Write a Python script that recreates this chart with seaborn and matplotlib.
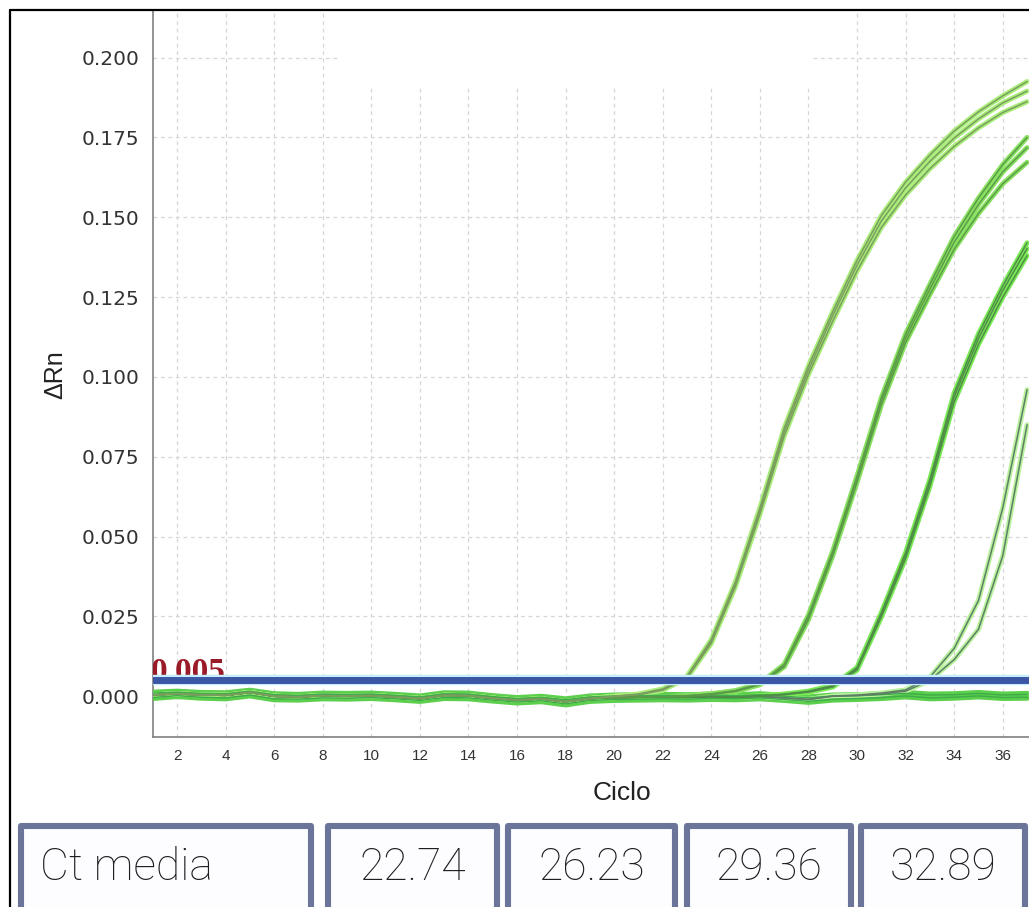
import matplotlib
matplotlib.use("Agg")
import matplotlib.pyplot as plt
from matplotlib.patches import Rectangle
from matplotlib.lines import Line2D
import pandas as pd
import seaborn as sns

# ---------------- data ----------------
cycles = list(range(1, 38))

# common baseline drift of the wells before amplification (ΔRn)
baseline = [0.0004, 0.0008, 0.0004, 0.0003, 0.0012, 0.0000, -0.0002, 0.0002, 0.0001, 0.0002,
            -0.0002, -0.0007, 0.0003, 0.0002, -0.0006, -0.0012, -0.0008, -0.0017, -0.0007, -0.0004,
            -0.0003, -0.0002, -0.0003, -0.0001, -0.0003, 0.0000, -0.0005, -0.0010, -0.0004, -0.0003,
            0.0000, 0.0004, -0.0001, 0.0000, 0.0004, -0.0001, 0.0001]

# non-amplifying wells (full run)
ntc_1 = [-0.0004, 0.0002, -0.0003, -0.0005, 0.0004, -0.0008, -0.0009, -0.0005, -0.0006, -0.0004,
         -0.0008, -0.0013, -0.0004, -0.0005, -0.0012, -0.0018, -0.0014, -0.0024, -0.0013, -0.0010,
         -0.0009, -0.0008, -0.0009, -0.0007, -0.0008, -0.0005, -0.0010, -0.0016, -0.0009, -0.0007,
         -0.0004, 0.0001, -0.0005, -0.0003, 0.0001, -0.0004, -0.0003]
ntc_2 = [0.0010, 0.0013, 0.0009, 0.0008, 0.0016, 0.0005, 0.0003, 0.0007, 0.0006, 0.0007,
         0.0003, -0.0002, 0.0008, 0.0007, -0.0001, -0.0007, -0.0003, -0.0011, -0.0002, 0.0001,
         0.0002, 0.0003, 0.0002, 0.0004, 0.0002, 0.0005, 0.0000, -0.0005, 0.0001, 0.0002,
         0.0005, 0.0009, 0.0004, 0.0005, 0.0009, 0.0004, 0.0006]

# dilution 1 (from cycle 20)
dil1_start = 20
dil1_a = [0.0000, 0.0007, 0.0023, 0.0063, 0.0178, 0.0360, 0.0590, 0.0840, 0.1035, 0.1205,
          0.1365, 0.1505, 0.1610, 0.1695, 0.1770, 0.1830, 0.1880, 0.1925]
dil1_b = [0.0000, 0.0006, 0.0021, 0.0060, 0.0172, 0.0352, 0.0580, 0.0828, 0.1022, 0.1192,
          0.1350, 0.1488, 0.1592, 0.1675, 0.1748, 0.1808, 0.1858, 0.1895]
dil1_c = [-0.0001, 0.0005, 0.0019, 0.0057, 0.0166, 0.0345, 0.0570, 0.0815, 0.1008, 0.1175,
          0.1332, 0.1468, 0.1570, 0.1652, 0.1722, 0.1780, 0.1828, 0.1862]

# dilution 2 (from cycle 23)
dil2_start = 23
dil2_a = [0.0002, 0.0008, 0.0018, 0.0040, 0.0100, 0.0255, 0.0455, 0.0690, 0.0935, 0.1135,
          0.1290, 0.1440, 0.1560, 0.1665, 0.1750]
dil2_b = [0.0001, 0.0007, 0.0016, 0.0038, 0.0095, 0.0248, 0.0448, 0.0680, 0.0925, 0.1122,
          0.1275, 0.1422, 0.1540, 0.1642, 0.1718]
dil2_c = [0.0000, 0.0006, 0.0015, 0.0036, 0.0092, 0.0240, 0.0440, 0.0670, 0.0912, 0.1108,
          0.1258, 0.1400, 0.1512, 0.1605, 0.1672]

# dilution 3 (from cycle 26)
dil3_start = 26
dil3_a = [0.0002, 0.0007, 0.0016, 0.0034, 0.0090, 0.0262, 0.0450, 0.0680, 0.0950, 0.1135,
          0.1285, 0.1420]
dil3_b = [0.0001, 0.0006, 0.0014, 0.0031, 0.0086, 0.0255, 0.0442, 0.0670, 0.0938, 0.1120,
          0.1270, 0.1402]
dil3_c = [0.0000, 0.0005, 0.0013, 0.0029, 0.0082, 0.0248, 0.0432, 0.0658, 0.0922, 0.1102,
          0.1250, 0.1380]

# dilution 4 (from cycle 29)
dil4_start = 29
dil4_a = [0.0001, 0.0004, 0.0010, 0.0020, 0.0060, 0.0150, 0.0300, 0.0590, 0.0960]
dil4_b = [0.0000, 0.0002, 0.0007, 0.0016, 0.0050, 0.0115, 0.0210, 0.0440, 0.0850]

threshold = 0.005
ct_label = "Ct media"
ct_values = ["22.74", "26.23", "29.36", "32.89"]
x_ticks = list(range(2, 37, 2))
y_ticks = [0.000, 0.025, 0.050, 0.075, 0.100, 0.125, 0.150, 0.175, 0.200]

# ---------------- tidy table ----------------
groups = [
    ("dil1", dil1_start, {"A1": dil1_a, "A2": dil1_b, "A3": dil1_c}),
    ("dil2", dil2_start, {"B1": dil2_a, "B2": dil2_b, "B3": dil2_c}),
    ("dil3", dil3_start, {"C1": dil3_a, "C2": dil3_b, "C3": dil3_c}),
    ("dil4", dil4_start, {"D1": dil4_a, "D2": dil4_b}),
]
rows = []
for name, start, wells in groups:
    for well, rise in wells.items():
        values = baseline[:start - 1] + rise
        for c, v in zip(cycles, values):
            rows.append({"Ciclo": c, "dRn": v, "pocillo": well, "grupo": name})
for well, values in (("N1", ntc_1), ("N2", ntc_2)):
    for c, v in zip(cycles, values):
        rows.append({"Ciclo": c, "dRn": v, "pocillo": well, "grupo": "ntc"})
df = pd.DataFrame(rows)

# (glow colour, core colour, glow width)
palette = {
    "ntc":  ("#5ccf4c", "#3fae4a", 5.0),
    "dil1": ("#aaee7a", "#7a9e5e", 3.6),
    "dil2": ("#88e260", "#5c9c48", 3.6),
    "dil3": ("#7aea56", "#4f8e46", 3.6),
    "dil4": ("#b8f29c", "#5e7e66", 3.6),
}

# ---------------- figure ----------------
sns.set_style("white")
plt.rcParams["font.family"] = ["Liberation Sans", "DejaVu Sans"]

W, H = 1029, 907
fig = plt.figure(figsize=(W / 100, H / 100), dpi=100)
fig.patch.set_facecolor("white")

def fx(px):
    return px / W

def fy(py):
    return 1 - py / H

ax_left, ax_right, ax_top, ax_bottom = 153, 1029, 10, 737
ax = fig.add_axes([fx(ax_left), fy(ax_bottom), fx(ax_right - ax_left), (ax_bottom - ax_top) / H])
ax.set_facecolor("white")

order = ["ntc", "dil4", "dil3", "dil2", "dil1"]
for g in order:
    glow, core, gw = palette[g]
    sub = df[df["grupo"] == g]
    sns.lineplot(data=sub, x="Ciclo", y="dRn", units="pocillo", estimator=None,
                 color=glow, lw=gw, ax=ax, legend=False, zorder=3,
                 solid_capstyle="round", solid_joinstyle="round")
for g in order:
    glow, core, gw = palette[g]
    sub = df[df["grupo"] == g]
    sns.lineplot(data=sub, x="Ciclo", y="dRn", units="pocillo", estimator=None,
                 color=core, lw=1.1, ax=ax, legend=False, zorder=4)

# threshold line and its value
ax.text(0.92, 0.0049, f"{threshold:.3f}", family=["Liberation Serif", "DejaVu Serif"],
        weight="bold", fontsize=24, color="#9a1a28", ha="left", va="baseline",
        zorder=4.5, clip_on=True)
ax.axhline(threshold, color="#c6eeff", lw=7.5, zorder=5)
ax.axhline(threshold, color="#3c56a6", lw=5, zorder=6)

ax.set_xlim(1.01, 37.08)
ax.set_ylim(-0.01275, 0.2149)
ax.set_xticks(x_ticks)
ax.set_yticks(y_ticks)
ax.set_yticklabels([f"{v:.3f}" for v in y_ticks])

ax.grid(True, color="#d6d6d6", ls=(0, (3, 3)), lw=0.9)
ax.set_axisbelow(True)
# blank strip at the top of the plotting area
ax.add_patch(Rectangle((8.72, 0.1905), 28.14 - 8.72, 0.03, facecolor="white",
                       edgecolor="none", zorder=1))

for side in ("top", "right"):
    ax.spines[side].set_visible(False)
for side in ("left", "bottom"):
    ax.spines[side].set_color("#808080")
    ax.spines[side].set_linewidth(1.2)

ax.tick_params(axis="both", direction="out", length=3, width=1, color="#808080",
               labelcolor="#333333")
ax.tick_params(axis="x", labelsize=11, pad=6)
ax.tick_params(axis="y", labelsize=14.5, pad=7)
for lab in ax.get_xticklabels():
    lab.set_family(["Liberation Sans Narrow", "Liberation Sans"])
for lab in ax.get_yticklabels():
    lab.set_family("DejaVu Sans")

ax.set_xlabel("Ciclo", fontsize=19, color="#222222")
ax.set_ylabel("ΔRn", fontsize=18, color="#222222")
ax.xaxis.set_label_coords(0.535, -0.06)
ax.yaxis.set_label_coords(-0.098, 0.498)

# outer frame (left and top edges)
fig.add_artist(Line2D([fx(10), fx(10)], [0, fy(10)], color="black", lw=1.6))
fig.add_artist(Line2D([fx(10), 1], [fy(10), fy(10)], color="black", lw=1.6))

# Ct summary boxes
boxes = [(21, 311), (328, 497), (508, 675), (687, 851), (861, 1025)]
top = 826
for (x0, x1) in boxes:
    fig.add_artist(Rectangle((fx(x0), fy(920)), fx(x1 - x0), (920 - top) / H,
                             transform=fig.transFigure, facecolor="#fdfdff",
                             edgecolor="#6b7499", lw=4.4, joinstyle="round"))
text_kw = dict(fontsize=32, color="#1e1e1e", va="center",
               family=["Roboto", "Liberation Sans"], weight="light")
fig.text(fx(40), fy(868), ct_label, ha="left", **text_kw)
for (x0, x1), val in zip(boxes[1:], ct_values):
    fig.text(fx((x0 + x1) / 2), fy(868), val, ha="center", **text_kw)

fig.savefig("out.png", dpi=100, facecolor="white")
